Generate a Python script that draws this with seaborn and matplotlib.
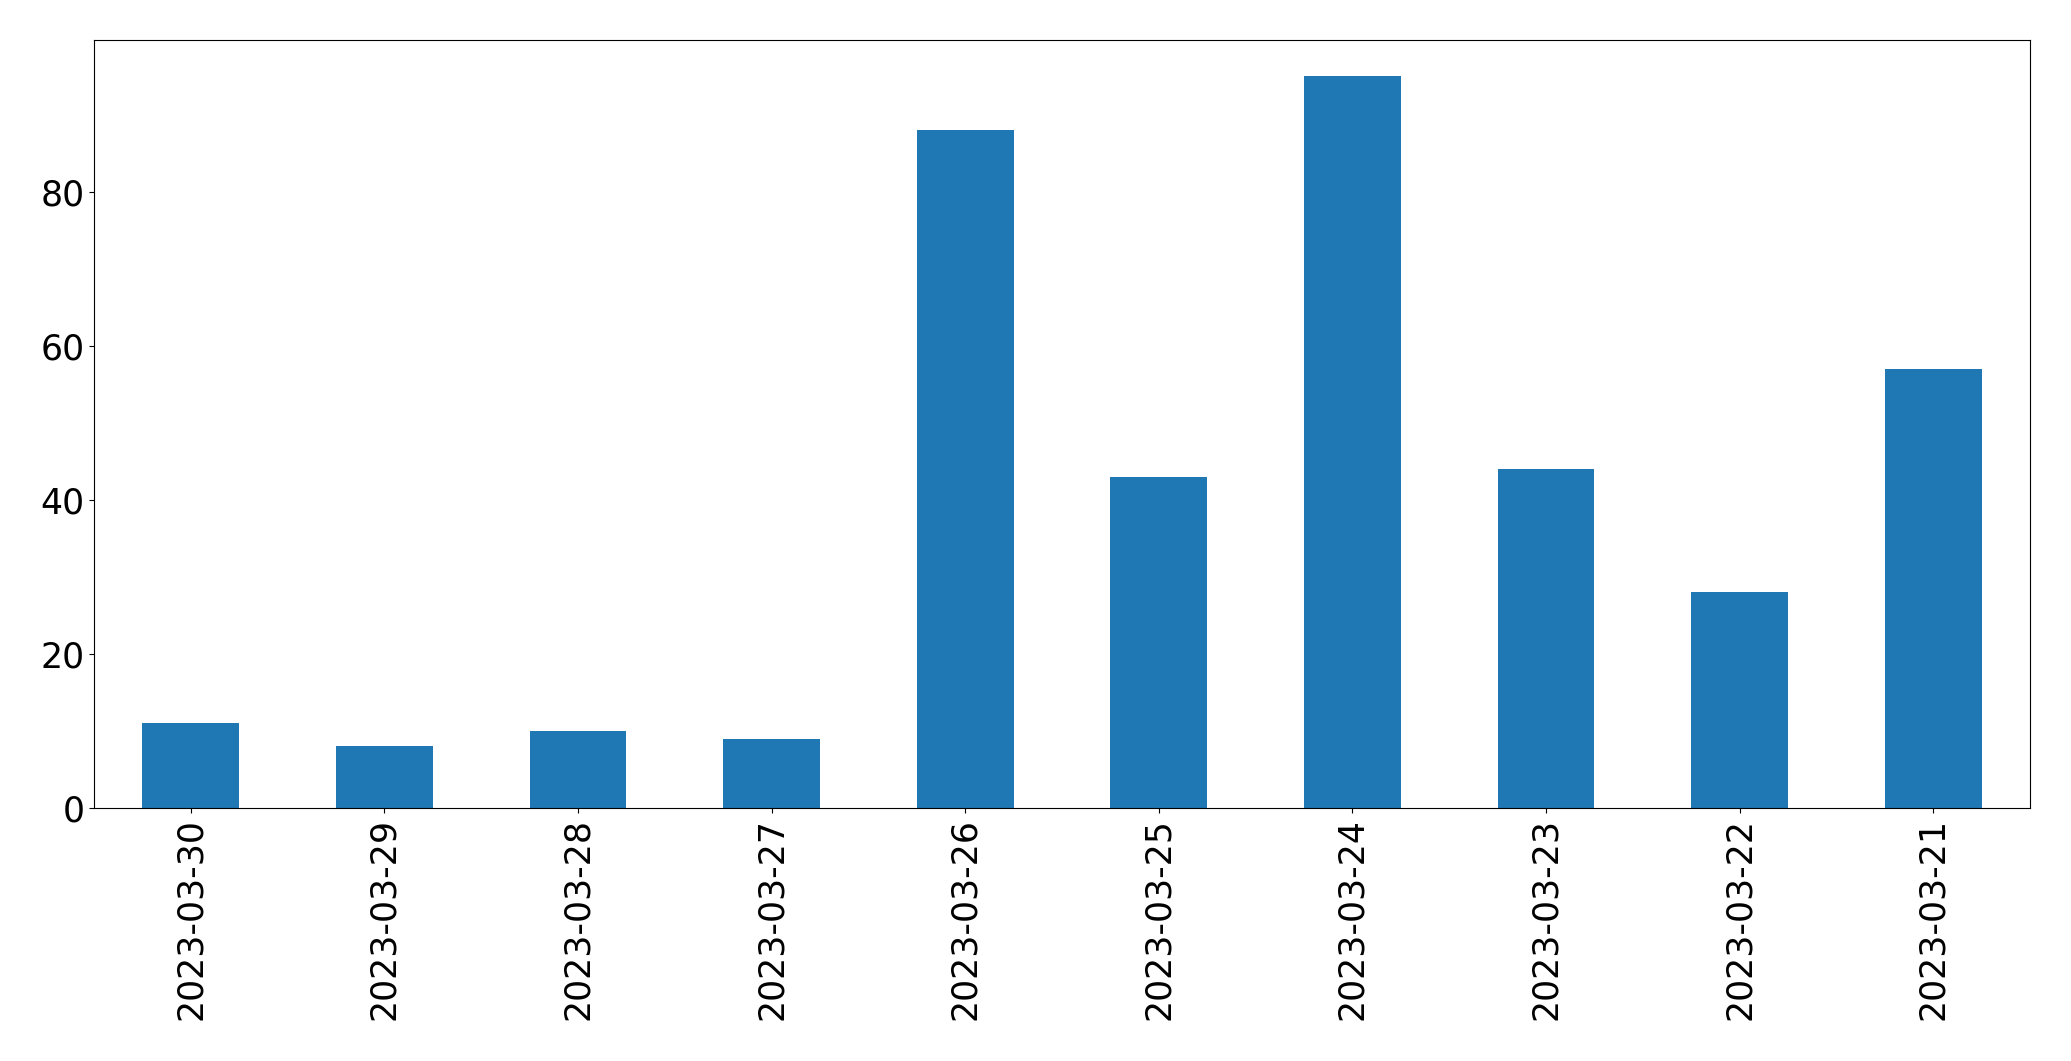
import matplotlib
matplotlib.use("Agg")
import matplotlib.pyplot as plt
import seaborn as sns
import pandas as pd

dates = ["2023-03-30", "2023-03-29", "2023-03-28", "2023-03-27", "2023-03-26",
         "2023-03-25", "2023-03-24", "2023-03-23", "2023-03-22", "2023-03-21"]
counts = [11, 8, 10, 9, 88, 43, 95, 44, 28, 57]

df = pd.DataFrame({"date": dates, "count": counts})

fig, ax = plt.subplots(figsize=(20.71, 10.61), dpi=100)
fig.subplots_adjust(left=0.0454, right=0.9802, top=0.9627, bottom=0.2385)

sns.barplot(data=df, x="date", y="count", order=dates, color="#1f77b4",
            saturation=1, width=0.5, ax=ax)
ax.set_xlim(-0.5, len(dates) - 0.5)
ax.set_ylim(0, max(counts) * 1.05)
ax.set_xlabel("")
ax.set_ylabel("")
ax.tick_params(axis="both", labelsize=25)
ax.tick_params(axis="x", labelrotation=90)
for s in ax.spines.values():
    s.set_visible(True)
    s.set_color("black")

fig.savefig("out.png", dpi=100)
